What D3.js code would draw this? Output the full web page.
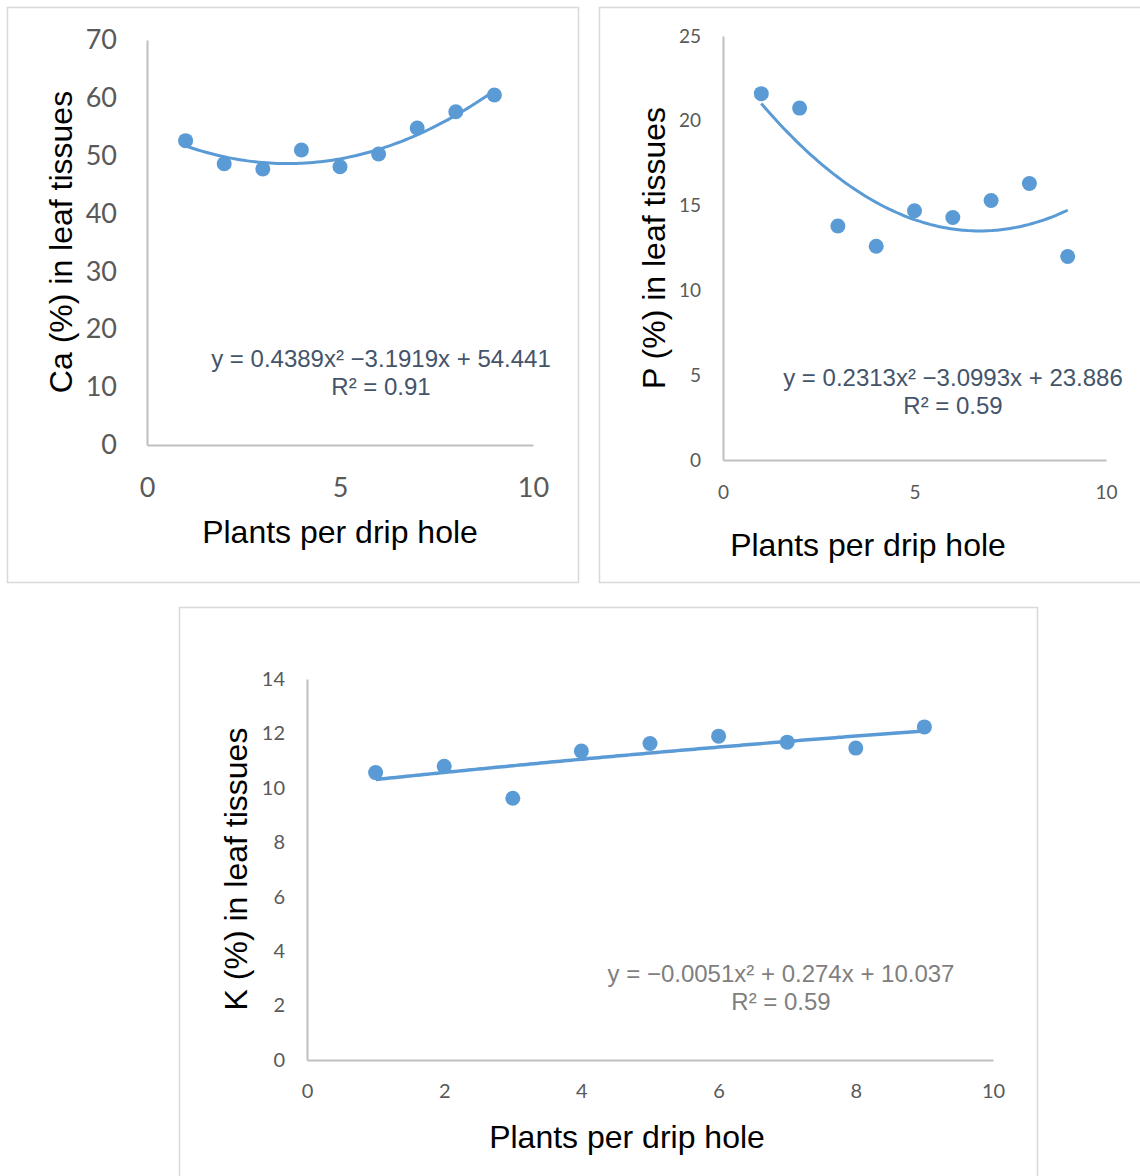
<!DOCTYPE html>
<html>
<head>
<meta charset="utf-8">
<script src="https://cdn.jsdelivr.net/npm/d3@7"></script>
<style>
  body { margin: 0; background: #fff; }
  svg { display: block; }
</style>
</head>
<body>
<svg id="chart" width="1140" height="1176"></svg>
<script>
// data
const plantsPerHole = [1, 2, 3, 4, 5, 6, 7, 8, 9];
const caValues = [52.6, 48.6, 47.7, 51.0, 48.1, 50.3, 54.8, 57.6, 60.5];
const pValues = [21.6, 20.75, 13.8, 12.6, 14.7, 14.3, 15.3, 16.3, 12.0];
const kValues = [10.56, 10.79, 9.62, 11.35, 11.63, 11.9, 11.68, 11.46, 12.24];

// polynomial trendline coefficients [a, b, c] for a*x^2 + b*x + c
const caFit = [0.4389, -3.1919, 54.441];
const pFit = [0.2313, -3.0993, 23.886];
const kFit = [-0.0051, 0.274, 10.037];

const caEquation = ["y = 0.4389x\u00b2 \u22123.1919x + 54.441", "R\u00b2 = 0.91"];
const pEquation = ["y = 0.2313x\u00b2 \u22123.0993x + 23.886", "R\u00b2 = 0.59"];
const kEquation = ["y = \u22120.0051x\u00b2 + 0.274x + 10.037", "R\u00b2 = 0.59"];

// tick labels
const caYTicks = [0, 10, 20, 30, 40, 50, 60, 70];
const caXTicks = [0, 5, 10];
const pYTicks = [0, 5, 10, 15, 20, 25];
const pXTicks = [0, 5, 10];
const kYTicks = [0, 2, 4, 6, 8, 10, 12, 14];
const kXTicks = [0, 2, 4, 6, 8, 10];

const xTitle = "Plants per drip hole";
const blue = "#5b9bd5";

const svg = d3.select("#chart");

function drawPanel(p) {
  const g = svg.append("g");

  // panel frame
  g.append("rect")
    .attr("x", p.box[0] + 0.5).attr("y", p.box[1] + 0.5)
    .attr("width", p.box[2]).attr("height", p.box[3])
    .attr("fill", "#fff").attr("stroke", "#d9d9d9").attr("stroke-width", 1.5);

  const x = d3.scaleLinear().domain(p.xDomain).range([p.left, p.right]);
  const y = d3.scaleLinear().domain(p.yDomain).range([p.bottom, p.top]);

  const xAxis = g.append("g")
    .attr("transform", `translate(0,${p.bottom})`)
    .call(d3.axisBottom(x).tickValues(p.xTicks).tickSize(0).tickPadding(p.xPad));
  const yAxis = g.append("g")
    .attr("transform", `translate(${p.left},0)`)
    .call(d3.axisLeft(y).tickValues(p.yTicks).tickSize(0).tickPadding(p.yPad));

  [xAxis, yAxis].forEach(a => {
    a.select(".domain").attr("stroke", "#bfbfbf").attr("stroke-width", 2);
    a.selectAll("text")
      .attr("fill", "#595959")
      .style("font-family", "Lato, 'Open Sans', sans-serif")
      .style("font-size", p.tickSize + "px");
  });

  // trendline
  const fx = d3.range(p.xs[0], p.xs[p.xs.length - 1] + 0.001, 0.1);
  const line = d3.line()
    .x(d => x(d))
    .y(d => y(p.fit[0] * d * d + p.fit[1] * d + p.fit[2]))
    .curve(d3.curveMonotoneX);
  g.append("path")
    .datum(fx)
    .attr("d", line)
    .attr("fill", "none")
    .attr("stroke", blue)
    .attr("stroke-width", p.lw);

  // points
  g.selectAll("circle")
    .data(p.xs.map((d, i) => [d, p.ys[i]]))
    .join("circle")
    .attr("cx", d => x(d[0]))
    .attr("cy", d => y(d[1]))
    .attr("r", p.r)
    .attr("fill", blue);

  // equation label
  const eq = g.append("text")
    .attr("text-anchor", "middle")
    .attr("fill", p.eqColor)
    .style("font-family", "'Liberation Sans', Arial, sans-serif")
    .style("font-size", "24px");
  p.eq.forEach((t, i) => {
    eq.append("tspan")
      .attr("x", p.eqPos[0])
      .attr("y", p.eqPos[1] + i * 28)
      .text(t);
  });

  // axis titles
  g.append("text")
    .attr("x", p.xTitlePos[0]).attr("y", p.xTitlePos[1])
    .attr("text-anchor", "middle")
    .style("font-family", "'Liberation Sans', Arial, sans-serif")
    .style("font-size", "32px")
    .text(xTitle);
  g.append("text")
    .attr("transform", `translate(${p.yTitlePos[0]},${p.yTitlePos[1]}) rotate(-90)`)
    .attr("text-anchor", "middle")
    .style("font-family", "'Liberation Sans', Arial, sans-serif")
    .style("font-size", "32px")
    .text(p.yTitle);
}

drawPanel({
  box: [7, 7, 571, 575],
  left: 147, right: 533, top: 40, bottom: 445,
  xDomain: [0, 10], yDomain: [0, 70],
  xTicks: caXTicks, yTicks: caYTicks,
  xPad: 33, yPad: 30, tickSize: 27,
  xs: plantsPerHole, ys: caValues, fit: caFit, r: 7.5, lw: 3,
  eq: caEquation, eqPos: [381, 367], eqColor: "#44546a",
  xTitlePos: [340, 543], yTitlePos: [72, 242],
  yTitle: "Ca (%) in leaf tissues"
});

drawPanel({
  box: [599, 7, 545, 575],
  left: 723, right: 1106, top: 36, bottom: 460,
  xDomain: [0, 10], yDomain: [0, 25],
  xTicks: pXTicks, yTicks: pYTicks,
  xPad: 26, yPad: 22, tickSize: 19,
  xs: plantsPerHole, ys: pValues, fit: pFit, r: 7.5, lw: 3,
  eq: pEquation, eqPos: [953, 386], eqColor: "#44546a",
  xTitlePos: [868, 556], yTitlePos: [665, 248],
  yTitle: "P (%) in leaf tissues"
});

drawPanel({
  box: [179, 607, 858, 580],
  left: 307, right: 993, top: 679, bottom: 1060,
  xDomain: [0, 10], yDomain: [0, 14],
  xTicks: kXTicks, yTicks: kYTicks,
  xPad: 24, yPad: 22, tickSize: 20,
  xs: plantsPerHole, ys: kValues, fit: kFit, r: 7.5, lw: 3.5,
  eq: kEquation, eqPos: [781, 982], eqColor: "#7f7f7f",
  xTitlePos: [627, 1148], yTitlePos: [247, 869],
  yTitle: "K (%) in leaf tissues"
});
</script>
</body>
</html>
